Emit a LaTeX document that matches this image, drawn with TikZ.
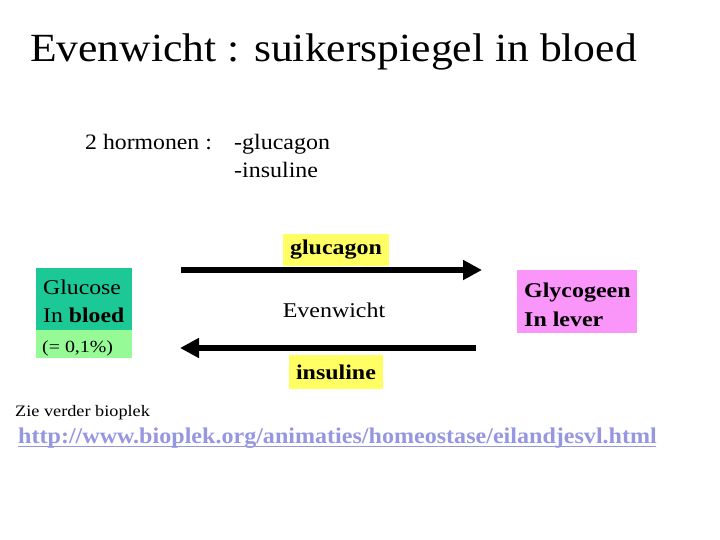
\documentclass[tikz,border=0pt]{standalone}
\usepackage{graphicx}
\usepackage{fontspec}
\setmainfont{Liberation Serif}
\usetikzlibrary{arrows.meta}
\definecolor{teal1}{RGB}{28,200,150}
\definecolor{lgreen}{RGB}{150,250,150}
\definecolor{pink1}{RGB}{250,150,250}
\definecolor{yel}{RGB}{255,255,100}
\definecolor{urlc}{RGB}{150,150,225}
\newcommand\hsx[2]{\scalebox{#1}[1]{#2}}
\tikzset{
  lbl/.style={inner sep=0pt, anchor=base west},
  bigarrow/.style={line width=6.5pt, -{Triangle[length=19pt,width=19pt]}},
}
\begin{document}
\begin{tikzpicture}[x=1pt,y=-1pt]
\useasboundingbox (0,0) rectangle (720,540);
\node[lbl, font=\fontsize{40}{44}\selectfont] (title) at (30,62) {\hsx{1.09}{Evenwicht : suikerspiegel in bloed}};
\node[lbl, font=\fontsize{22}{26}\selectfont] (horm) at (85,150) {\hsx{1.08}{2 hormonen :}};
\node[lbl, font=\fontsize{22}{26}\selectfont] (h1) at (234,150) {\hsx{1.09}{-glucagon}};
\node[lbl, font=\fontsize{22}{26}\selectfont] (h2) at (234,178) {\hsx{1.09}{-insuline}};
% Glucose box
\fill[teal1] (36,268) rectangle (132,330);
\fill[lgreen] (36,330) rectangle (132,358);
\node[lbl, font=\fontsize{21}{25}\selectfont] (g1) at (43,294) {\hsx{1.13}{Glucose}};
\node[lbl, font=\fontsize{21}{25}\selectfont] (g2) at (43,322) {\hsx{1.13}{In \textbf{bloed}}};
\node[lbl, font=\fontsize{17}{20}\selectfont] (g3) at (42,352) {\hsx{1.17}{(= 0,1\%)}};
% Glycogeen box
\node[fill=pink1, minimum width=120pt, minimum height=63pt, inner sep=0pt] (glyc) at (577,301.5) {};
\node[lbl, font=\bfseries\fontsize{21}{25}\selectfont] (y1) at (524,297) {\hsx{1.14}{Glycogeen}};
\node[lbl, font=\bfseries\fontsize{21}{25}\selectfont] (y2) at (524,326) {\hsx{1.14}{In lever}};
% labels
\node[fill=yel, minimum width=106pt, minimum height=32pt, inner sep=0pt, font=\bfseries\fontsize{21}{25}\selectfont] (glu) at (336,250) {\hsx{1.14}{glucagon}};
\node[fill=yel, minimum width=94pt, minimum height=34pt, inner sep=0pt, font=\bfseries\fontsize{21}{25}\selectfont] (ins) at (336,372) {\hsx{1.14}{insuline}};
\node[font=\fontsize{21}{25}\selectfont, inner sep=0pt] (ev) at (334,310) {\hsx{1.14}{Evenwicht}};
% arrows
\coordinate (a1s) at (181,270);
\coordinate (a1e) at (482,270);
\coordinate (a2s) at (476,348);
\coordinate (a2e) at (180,348);
\draw[bigarrow] (a1s) -- (a1e);
\draw[bigarrow] (a2s) -- (a2e);
% footer
\node[lbl, font=\fontsize{16}{19}\selectfont] (zie) at (15,416) {\hsx{1.14}{Zie verder bioplek}};
\node[lbl, font=\bfseries\fontsize{22.5}{26}\selectfont, text=urlc] (url) at (18,443) {\hsx{1.07}{http://www.bioplek.org/animaties/homeostase/eilandjesvl.html}};
\draw[urlc, line width=1.5pt] (url.base west) ++(0,3.5) -- ++(638,0);
\end{tikzpicture}
\end{document}
